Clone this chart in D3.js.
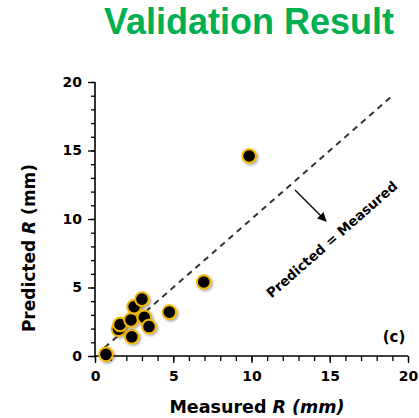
<!DOCTYPE html>
<html><head><meta charset="utf-8">
<script src="https://cdn.jsdelivr.net/npm/d3@7"></script>
<style>html,body{margin:0;padding:0;background:#fff;}</style>
</head><body>
<script>
const measured  = [0.7, 1.5, 1.6, 2.35, 2.3, 2.5, 3.0, 3.15, 3.45, 4.75, 6.95, 9.85];
const predicted = [0.12, 1.95, 2.3, 1.4, 2.63, 3.6, 4.15, 2.82, 2.15, 3.2, 5.4, 14.6];
const majorTicks = [0, 5, 10, 15, 20];
const minorTicks = d3.range(0, 21, 1);
const titleText = "Validation Result";
const annotation = "Predicted = Measured";

const W = 419, H = 418;
const svg = d3.select("body").append("svg").attr("width", W).attr("height", H);
const font = "'DejaVu Sans', sans-serif";

const defs = svg.append("defs");
const f = defs.append("filter").attr("id","sh").attr("x","-50%").attr("y","-50%").attr("width","200%").attr("height","200%");
f.append("feDropShadow").attr("dx",1.5).attr("dy",1.5).attr("stdDeviation",1.2).attr("flood-color","#000").attr("flood-opacity",0.35);
defs.append("marker").attr("id","arr").attr("viewBox","0 0 10 10").attr("refX",9).attr("refY",5)
  .attr("markerWidth",9).attr("markerHeight",9).attr("markerUnits","userSpaceOnUse").attr("orient","auto")
  .append("path").attr("d","M0,0 L10,5 L0,10 z").attr("fill","#000");

const x = d3.scaleLinear().domain([0,20]).range([95,408]);
const y = d3.scaleLinear().domain([0,20]).range([356,82]);

svg.append("text").attr("x",249).attr("y",34).attr("text-anchor","middle")
  .attr("font-family","'Liberation Sans', Arial, sans-serif").attr("font-weight","bold")
  .attr("font-size",36).attr("fill","#00b050").text(titleText);

// x axis
const xg = svg.append("g").attr("transform",`translate(0,${y(0)})`);
xg.append("g").call(d3.axisBottom(x).tickValues(minorTicks).tickSize(5).tickFormat(""))
  .call(g=>g.select(".domain").attr("stroke-width",1.6).attr("d",`M${x(0)},0H${x(20)}`))
  .call(g=>g.selectAll(".tick line").attr("stroke-width",1.3));
xg.append("g").call(d3.axisBottom(x).tickValues(majorTicks).tickSize(7).tickPadding(8))
  .call(g=>g.select(".domain").remove())
  .call(g=>g.selectAll(".tick line").attr("stroke-width",1.3))
  .call(g=>g.selectAll("text").attr("font-family",font).attr("font-weight","bold").attr("font-size",14).attr("fill","#000"));

// y axis
const yg = svg.append("g").attr("transform",`translate(${x(0)},0)`);
yg.append("g").call(d3.axisLeft(y).tickValues(minorTicks).tickSize(4).tickFormat(""))
  .call(g=>g.select(".domain").attr("stroke-width",1.6).attr("d",`M0,${y(0)}V${y(20)}`))
  .call(g=>g.selectAll(".tick line").attr("stroke-width",1.3));
yg.append("g").call(d3.axisLeft(y).tickValues(majorTicks).tickSize(7).tickPadding(6))
  .call(g=>g.select(".domain").remove())
  .call(g=>g.selectAll(".tick line").attr("stroke-width",1.3))
  .call(g=>g.selectAll("text").attr("font-family",font).attr("font-weight","bold").attr("font-size",14).attr("fill","#000"));

// axis titles
const xt = svg.append("text").attr("x",257).attr("y",413).attr("text-anchor","middle")
  .attr("font-family",font).attr("font-weight","bold").attr("font-size",17.5).attr("fill","#000");
xt.append("tspan").text("Measured ");
xt.append("tspan").attr("font-style","italic").text("R (mm)");

const yt = svg.append("text").attr("transform","translate(35,248) rotate(-90)").attr("text-anchor","middle")
  .attr("font-family",font).attr("font-weight","bold").attr("font-size",17).attr("fill","#000");
yt.append("tspan").text("Predicted ");
yt.append("tspan").attr("font-style","italic").text("R");
yt.append("tspan").text(" (mm)");

// 1:1 line
svg.append("line").attr("x1",x(0.6)).attr("y1",y(0.6)).attr("x2",x(18.9)).attr("y2",y(18.9))
  .attr("stroke","#333").attr("stroke-width",2).attr("stroke-dasharray","6,5");

// arrow
svg.append("line").attr("x1",295).attr("y1",190).attr("x2",326).attr("y2",221)
  .attr("stroke","#000").attr("stroke-width",1.2).attr("marker-end","url(#arr)");
const ang = -Math.atan((y(0)-y(1))/(x(1)-x(0)))*180/Math.PI;
svg.append("text").attr("transform",`translate(335,243) rotate(${ang})`).attr("text-anchor","middle")
  .attr("font-family",font).attr("font-weight","bold").attr("font-size",13.5).attr("fill","#000").text(annotation);

svg.append("text").attr("x",394).attr("y",342).attr("text-anchor","middle")
  .attr("font-family",font).attr("font-weight","bold").attr("font-size",15).attr("fill","#000").text("(c)");

// points
svg.append("g").selectAll("circle").data(measured.map((m,i)=>[m,predicted[i]])).join("circle")
  .attr("cx",d=>x(d[0])).attr("cy",d=>y(d[1])).attr("r",6.8)
  .attr("fill","#000").attr("stroke","#f2b705").attr("stroke-width",2)
  .attr("filter","url(#sh)");
</script>
</body></html>
